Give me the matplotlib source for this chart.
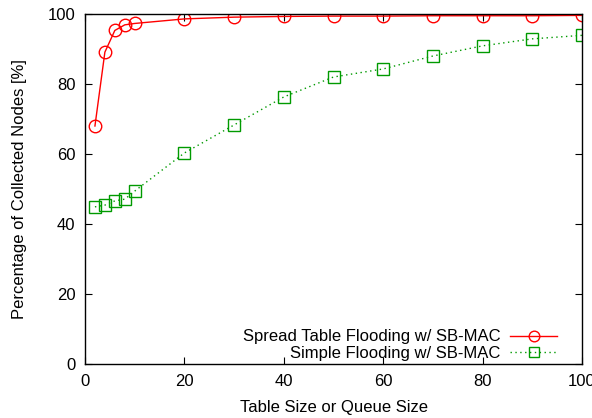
import matplotlib
matplotlib.use("Agg")
import matplotlib.pyplot as plt

x = [2, 4, 6, 8, 10, 20, 30, 40, 50, 60, 70, 80, 90, 100]
spread = [68, 89.1, 95.3, 96.9, 97.3, 98.6, 99.1, 99.3, 99.4, 99.4, 99.5, 99.5, 99.5, 99.6]
simple = [44.9, 45.4, 46.6, 47.1, 49.4, 60.3, 68.3, 76.3, 82.0, 84.3, 88.0, 90.9, 92.9, 93.9]
labels = ["Spread Table Flooding w/ SB-MAC", "Simple Flooding w/ SB-MAC"]

plt.rcParams['font.family'] = ['Liberation Sans', 'DejaVu Sans']
fig = plt.figure(figsize=(5.92, 4.18), dpi=100)
ax = fig.add_axes([85/592, 1-364/418, (582-85)/592, (364-14)/418])

ax.plot(x, spread, color='#ff0000', lw=1.0, marker='o', ms=9, mfc='none', mew=1.0, label=labels[0])
ax.plot(x, simple, color='#009a00', lw=1.0, ls=(0, (1, 2.5)), marker='s', ms=9, mfc='none', mew=1.0, label=labels[1])

ax.set_xlim(0, 100)
ax.set_ylim(0, 100)
ax.set_xticks(range(0, 101, 20))
ax.set_yticks(range(0, 101, 20))
ax.tick_params(direction='in', top=True, right=True, length=5, labelsize=12, pad=7)
for s in ax.spines.values():
    s.set_linewidth(1.0)
ax.set_xlabel("Table Size or Queue Size", fontsize=12, labelpad=8)
ax.set_ylabel("Percentage of Collected Nodes [%]", fontsize=12, labelpad=15)
leg = ax.legend(loc='lower right', bbox_to_anchor=((557-85)/497, (364-361)/350),
                frameon=False, markerfirst=False, fontsize=12, markerscale=0.85,
                handlelength=2.8, borderaxespad=0, borderpad=0, labelspacing=0.1,
                handletextpad=0.6)
fig.savefig("out.png", dpi=100)
